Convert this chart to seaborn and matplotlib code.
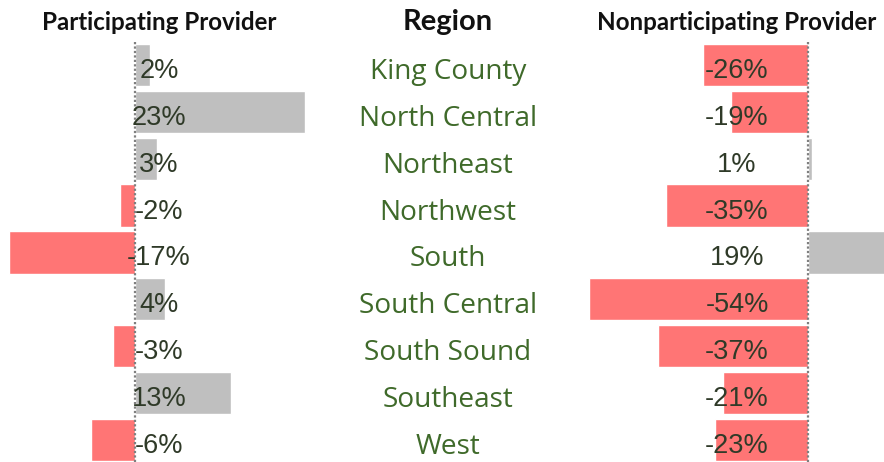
import matplotlib
matplotlib.use("Agg")
import matplotlib.pyplot as plt
import seaborn as sns
import pandas as pd

regions = ["King County", "North Central", "Northeast", "Northwest", "South",
           "South Central", "South Sound", "Southeast", "West"]
participating = [2, 23, 3, -2, -17, 4, -3, 13, -6]
nonparticipating = [-26, -19, 1, -35, 19, -54, -37, -21, -23]

POS = "#BFBFBF"
NEG = "#FF7575"
VAL_COL = "#2f3a28"
REG_COL = "#3f6a2a"

sns.set_theme(style="white")
plt.rcParams["font.family"] = ["Liberation Sans", "DejaVu Sans"]

W, H = 884, 462
fig = plt.figure(figsize=(W / 100, H / 100), dpi=100)

row0 = 65
step = 46.86
n = len(regions)
top_px = row0 - step / 2
bot_px = 462
ylim = (n - 1 + (bot_px - (row0 + step * (n - 1))) / step, -0.5)
text_dy = 6 / step  # labels sit slightly below bar centre


def make_axes(x0, x1):
    return fig.add_axes([x0 / W, 1 - bot_px / H, (x1 - x0) / W, (bot_px - top_px) / H])


def panel(ax, values, zero_px, x0, x1, ppp, label_x):
    df = pd.DataFrame({"region": regions, "value": values})
    colors = [POS if v >= 0 else NEG for v in values]
    sns.barplot(data=df, y="region", x="value", hue="region", palette=colors,
                orient="h", width=0.9, legend=False, ax=ax, saturation=1)
    ax.set_xlim(-(zero_px - x0) / ppp, (x1 - zero_px) / ppp)
    ax.set_ylim(*ylim)
    ax.axvline(0, color="#7f7f7f", linestyle=(0, (1, 1)), linewidth=1.6, clip_on=False)
    ax.axis("off")
    lx = (label_x - zero_px) / ppp
    for i, v in enumerate(values):
        ax.text(lx, i + text_dy, f"{v}%", ha="center", va="center", fontsize=19.5, color=VAL_COL)


ax1 = make_axes(0, 310)
panel(ax1, participating, 135, 0, 310, 7.4, 159)

ax2 = make_axes(585, 884)
panel(ax2, nonparticipating, 808, 585, 884, 4.05, 737)

for i, r in enumerate(regions):
    y = row0 + step * i + 7
    fig.text(448 / W, 1 - y / H, r, ha="center", va="center", fontsize=20.2,
             color=REG_COL, family=["Open Sans", "DejaVu Sans"])

hdr_font = ["Lato", "DejaVu Sans"]
fig.text(159 / W, 1 - 22 / H, "Participating Provider", ha="center", va="center",
         fontsize=17.4, fontweight="bold", color="#111111", family=hdr_font)
fig.text(737 / W, 1 - 22 / H, "Nonparticipating Provider", ha="center", va="center",
         fontsize=17.4, fontweight="bold", color="#111111", family=hdr_font)
fig.text(448 / W, 1 - 22 / H, "Region", ha="center", va="center",
         fontsize=21, fontweight="bold", color="#111111", family=hdr_font)

fig.savefig("out.png", dpi=100)
